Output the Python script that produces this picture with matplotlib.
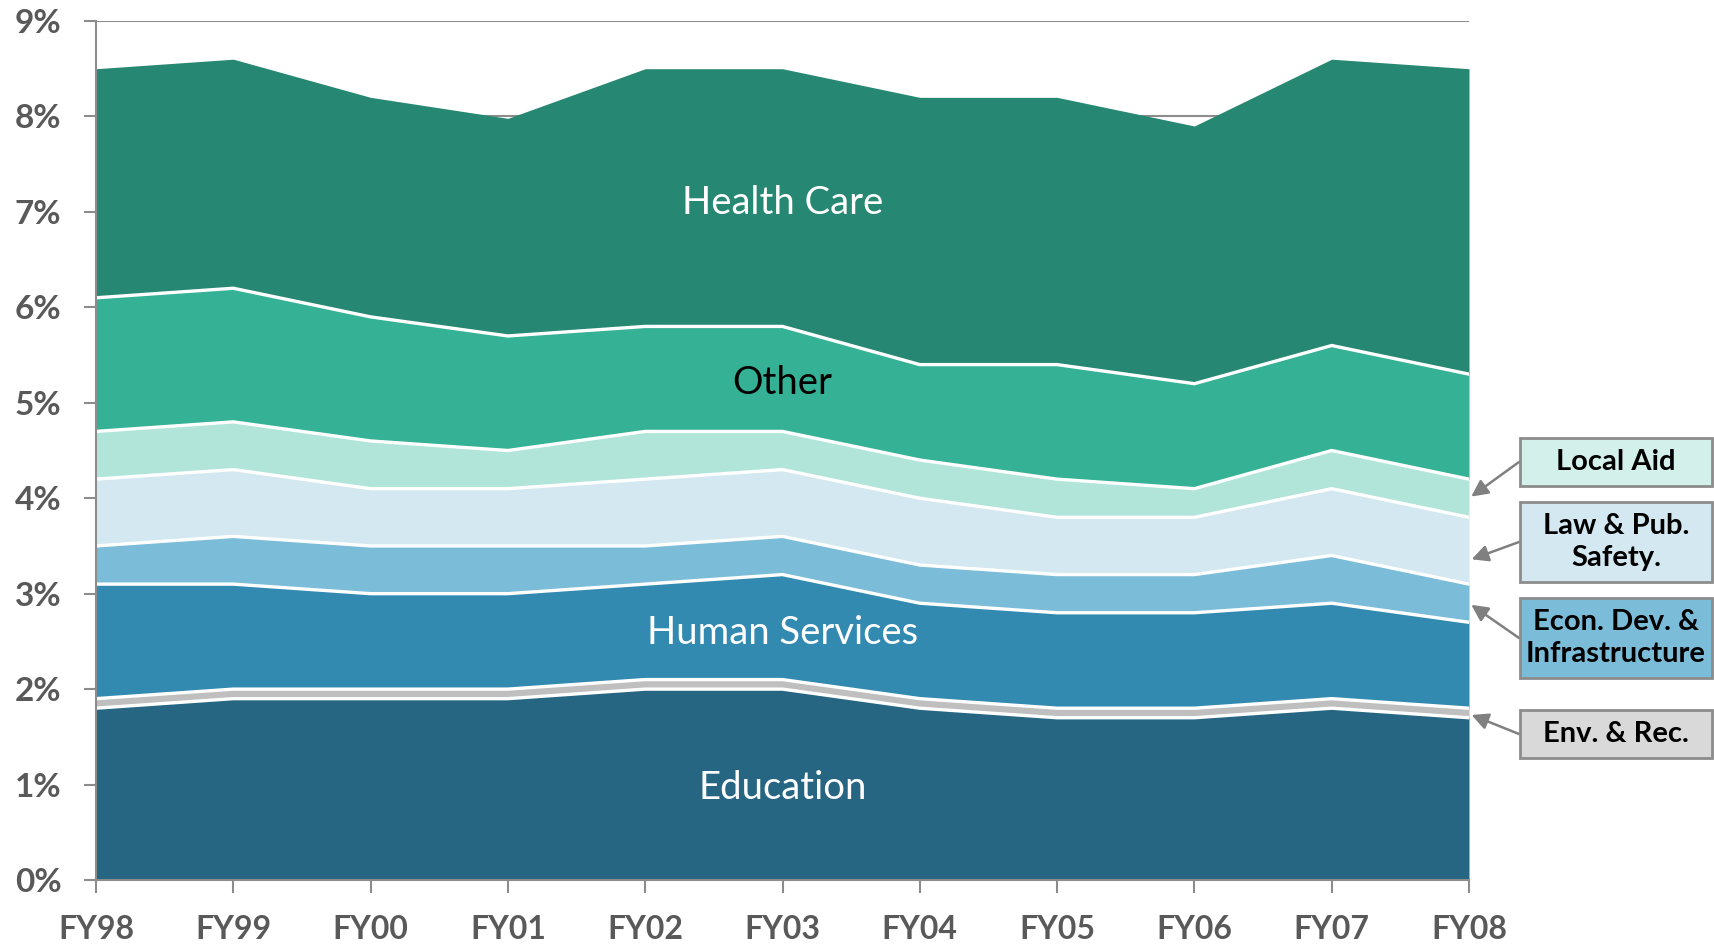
import matplotlib
matplotlib.use("Agg")
import matplotlib.pyplot as plt
import numpy as np
from matplotlib.patches import Rectangle

years = ["FY98", "FY99", "FY00", "FY01", "FY02", "FY03", "FY04", "FY05", "FY06", "FY07", "FY08"]
education = [1.8, 1.9, 1.9, 1.9, 2.0, 2.0, 1.8, 1.7, 1.7, 1.8, 1.7]
env_rec = [0.1, 0.1, 0.1, 0.1, 0.1, 0.1, 0.1, 0.1, 0.1, 0.1, 0.1]
human_services = [1.2, 1.1, 1.0, 1.0, 1.0, 1.1, 1.0, 1.0, 1.0, 1.0, 0.9]
econ_dev = [0.4, 0.5, 0.5, 0.5, 0.4, 0.4, 0.4, 0.4, 0.4, 0.5, 0.4]
law_safety = [0.7, 0.7, 0.6, 0.6, 0.7, 0.7, 0.7, 0.6, 0.6, 0.7, 0.7]
local_aid = [0.5, 0.5, 0.5, 0.4, 0.5, 0.4, 0.4, 0.4, 0.3, 0.4, 0.4]
other = [1.4, 1.4, 1.3, 1.2, 1.1, 1.1, 1.0, 1.2, 1.1, 1.1, 1.1]
health_care = [2.4, 2.4, 2.3, 2.28, 2.7, 2.7, 2.8, 2.8, 2.7, 3.0, 3.2]

series = [education, env_rec, human_services, econ_dev, law_safety, local_aid, other, health_care]
colors = ["#266682", "#BFBFBF", "#338AB0", "#7BBCD9", "#D3E8F0", "#B1E5DA", "#35B196", "#268772"]

y_ticks = list(range(0, 10))
y_labels = [f"{v}%" for v in y_ticks]

plt.rcParams['font.family'] = ['Lato', 'DejaVu Sans']

fig = plt.figure(figsize=(17.14, 9.44), dpi=100)
W, H = 1714, 944
ax = fig.add_axes([96 / W, (H - 880) / H, (1469 - 96) / W, (880 - 21) / H])

x = np.arange(len(years))
data = np.array(series, dtype=float)
cum = np.cumsum(data, axis=0)
lower = np.zeros(len(years))
for i, c in enumerate(colors):
    ax.fill_between(x, lower, cum[i], color=c, linewidth=0, zorder=2)
    lower = cum[i]
for i in range(len(colors) - 1):
    ax.plot(x, cum[i], color="white", linewidth=2.4, zorder=3, solid_joinstyle="miter")

ax.set_xlim(0, len(years) - 1)
ax.set_ylim(0, 9)
ax.set_yticks(y_ticks)
ax.set_yticklabels(y_labels)
ax.set_xticks(x)
ax.set_xticklabels(years)
ax.set_axisbelow(True)
ax.yaxis.grid(True, color="#8C8C8C", linewidth=1.5, zorder=0)
for s in ["top", "right"]:
    ax.spines[s].set_visible(False)
for s in ["left", "bottom"]:
    ax.spines[s].set_color("#8C8C8C")
    ax.spines[s].set_linewidth(1.5)
    ax.spines[s].set_zorder(5)
ax.tick_params(axis="both", colors="#8C8C8C", width=1.5, length=9, labelcolor="#595959")
ax.tick_params(axis="x", pad=16, labelsize=23)
ax.tick_params(axis="y", pad=16, labelsize=24)
for lab in ax.get_xticklabels() + ax.get_yticklabels():
    lab.set_fontweight("bold")

# area labels
ax.text(5, 7.09, "Health Care", color="white", fontsize=27.5, ha="center", va="center", zorder=6)
ax.text(5, 5.21, "Other", color="black", fontsize=27.5, ha="center", va="center", zorder=6)
ax.text(5, 2.59, "Human Services", color="white", fontsize=27.5, ha="center", va="center", zorder=6)
ax.text(5, 0.96, "Education", color="white", fontsize=27.5, ha="center", va="center", zorder=6)

# callout boxes (figure pixel coords, y from top)
boxes = [
    ("Local Aid", "#D3F0EA", 438, 486, 4.0),
    ("Law & Pub.\nSafety.", "#D3E8F0", 502, 582, 3.35),
    ("Econ. Dev. &\nInfrastructure", "#7BBCD9", 598, 678, 2.9),
    ("Env. & Rec.", "#D9D9D9", 710, 758, 1.74),
]
bx0, bx1 = 1520, 1712
for label, fc, yt, yb, target in boxes:
    rect = Rectangle((bx0 / W, (H - yb) / H), (bx1 - bx0) / W, (yb - yt) / H,
                     transform=fig.transFigure, facecolor=fc, edgecolor="#8C8C8C",
                     linewidth=2, zorder=10)
    fig.patches.append(rect)
    fig.text((bx0 + bx1) / 2 / W, (H - (yt + yb) / 2) / H, label, ha="center", va="center",
             fontsize=21, fontweight="bold", color="black", linespacing=1.3, zorder=11)
    ax.annotate("", xy=(10, target), xycoords="data",
                xytext=(bx0 - 1, H - (yt + yb) / 2), textcoords="figure pixels",
                arrowprops=dict(arrowstyle="-|>", color="#808080", lw=1.8,
                                mutation_scale=25, shrinkA=0, shrinkB=2),
                annotation_clip=False, zorder=9)

fig.savefig("out.png", dpi=100)
